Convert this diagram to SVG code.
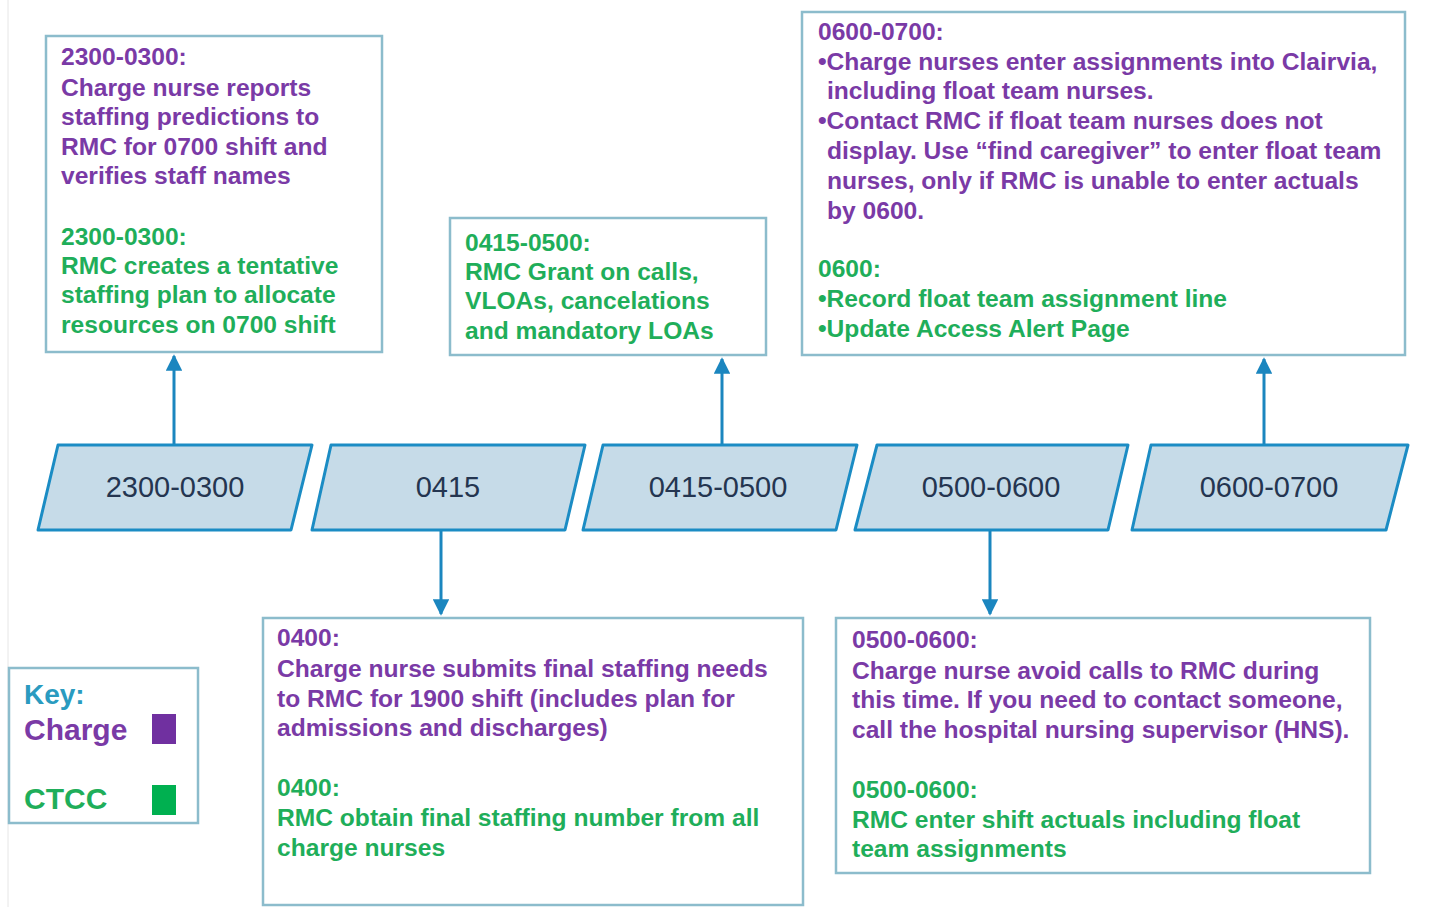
<svg xmlns="http://www.w3.org/2000/svg" width="1448" height="907" viewBox="0 0 1448 907">
<defs>
<style>
.box{fill:#ffffff;stroke:#8cbccc;stroke-width:2.5}
.para{fill:#c6dbe8;stroke:#1b8cc4;stroke-width:3;stroke-linejoin:round}
.lbl{font-family:"Liberation Sans",Arial,sans-serif;font-size:29px;fill:#243550;text-anchor:middle}
.t{font-family:"Liberation Sans",Arial,sans-serif;font-size:24.6px;font-weight:bold}
.k{font-family:"Liberation Sans",Arial,sans-serif;font-size:30px;font-weight:bold}
.p{fill:#7a3aa6}
.g{fill:#1fae5a}
.conn{stroke:#1b86bf;stroke-width:3;fill:none}
</style>
<marker id="ah" viewBox="0 0 10 10" refX="9" refY="5" markerWidth="5.5" markerHeight="5.5" orient="auto" markerUnits="strokeWidth">
<path d="M0,0 L10,5 L0,10 z" fill="#1b86bf"/>
</marker>
</defs>
<rect width="1448" height="907" fill="#ffffff"/>
<line x1="8" y1="0" x2="8" y2="907" stroke="#e6e6e6" stroke-width="1"/>

<g id="connectors">
<line class="conn" x1="174" y1="444" x2="174" y2="356" marker-end="url(#ah)"/>
<line class="conn" x1="722" y1="444" x2="722" y2="359" marker-end="url(#ah)"/>
<line class="conn" x1="1264" y1="444" x2="1264" y2="359" marker-end="url(#ah)"/>
<line class="conn" x1="441" y1="530" x2="441" y2="614" marker-end="url(#ah)"/>
<line class="conn" x1="990" y1="530" x2="990" y2="614" marker-end="url(#ah)"/>
</g>

<g id="t2300">
<polygon class="para" points="58,445 312,445 291,530 38,530"/>
<text class="lbl" x="175" y="497">2300-0300</text>
</g>
<g id="t0415">
<polygon class="para" points="331,445 585,445 565,530 312,530"/>
<text class="lbl" x="448" y="497">0415</text>
</g>
<g id="t04150500">
<polygon class="para" points="603,445 857,445 836,530 583,530"/>
<text class="lbl" x="718" y="497">0415-0500</text>
</g>
<g id="t05000600">
<polygon class="para" points="877,445 1128,445 1108,530 855,530"/>
<text class="lbl" x="991" y="497">0500-0600</text>
</g>
<g id="t06000700">
<polygon class="para" points="1151,445 1408,445 1386,530 1132,530"/>
<text class="lbl" x="1269" y="497">0600-0700</text>
</g>

<g id="box2300">
<rect class="box" x="46" y="36" width="336" height="316"/>
<text class="t p">
<tspan x="61" y="65">2300-0300:</tspan>
<tspan x="61" y="96">Charge nurse reports</tspan>
<tspan x="61" y="125">staffing predictions to</tspan>
<tspan x="61" y="155">RMC for 0700 shift and</tspan>
<tspan x="61" y="184">verifies staff names</tspan>
</text>
<text class="t g">
<tspan x="61" y="245">2300-0300:</tspan>
<tspan x="61" y="274">RMC creates a tentative</tspan>
<tspan x="61" y="303">staffing plan to allocate</tspan>
<tspan x="61" y="333">resources on 0700 shift</tspan>
</text>
</g>

<g id="box04150500">
<rect class="box" x="450" y="218" width="316" height="137"/>
<text class="t g">
<tspan x="465" y="251">0415-0500:</tspan>
<tspan x="465" y="280">RMC Grant on calls,</tspan>
<tspan x="465" y="309">VLOAs, cancelations</tspan>
<tspan x="465" y="339">and mandatory LOAs</tspan>
</text>
</g>

<g id="box06000700">
<rect class="box" x="802" y="12" width="603" height="343"/>
<text class="t p">
<tspan x="818" y="40">0600-0700:</tspan>
<tspan x="818" y="70">•Charge nurses enter assignments into Clairvia,</tspan>
<tspan x="827" y="99">including float team nurses.</tspan>
<tspan x="818" y="129">•Contact RMC if float team nurses does not</tspan>
<tspan x="827" y="159">display. Use “find caregiver” to enter float team</tspan>
<tspan x="827" y="189">nurses, only if RMC is unable to enter actuals</tspan>
<tspan x="827" y="219">by 0600.</tspan>
</text>
<text class="t g">
<tspan x="818" y="277">0600:</tspan>
<tspan x="818" y="307">•Record float team assignment line</tspan>
<tspan x="818" y="337">•Update Access Alert Page</tspan>
</text>
</g>

<g id="box0400">
<rect class="box" x="263" y="618" width="540" height="287"/>
<text class="t p">
<tspan x="277" y="646">0400:</tspan>
<tspan x="277" y="677">Charge nurse submits final staffing needs</tspan>
<tspan x="277" y="707">to RMC for 1900 shift (includes plan for</tspan>
<tspan x="277" y="736">admissions and discharges)</tspan>
</text>
<text class="t g">
<tspan x="277" y="796">0400:</tspan>
<tspan x="277" y="826">RMC obtain final staffing number from all</tspan>
<tspan x="277" y="856">charge nurses</tspan>
</text>
</g>

<g id="box05000600">
<rect class="box" x="836" y="618" width="534" height="255"/>
<text class="t p">
<tspan x="852" y="648">0500-0600:</tspan>
<tspan x="852" y="679">Charge nurse avoid calls to RMC during</tspan>
<tspan x="852" y="708">this time. If you need to contact someone,</tspan>
<tspan x="852" y="738">call the hospital nursing supervisor (HNS).</tspan>
</text>
<text class="t g">
<tspan x="852" y="798">0500-0600:</tspan>
<tspan x="852" y="828">RMC enter shift actuals including float</tspan>
<tspan x="852" y="857">team assignments</tspan>
</text>
</g>

<g id="key">
<rect class="box" x="9" y="668" width="189" height="155"/>
<text x="24" y="704" class="k" style="font-size:28px;fill:#2a9bc0">Key:</text>
<text x="24" y="740" class="k p">Charge</text>
<rect x="152" y="714" width="24" height="30" fill="#7030a0"/>
<text x="24" y="809" class="k g">CTCC</text>
<rect x="152" y="785" width="24" height="30" fill="#00b050"/>
</g>
</svg>
